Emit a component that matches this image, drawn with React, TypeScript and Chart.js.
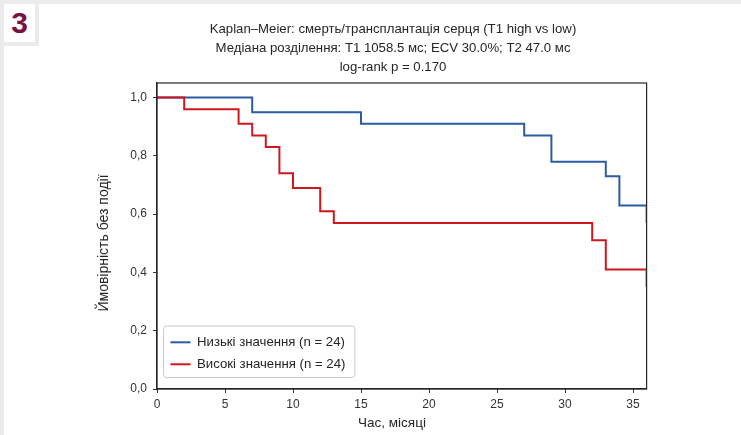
import React, { useEffect, useRef } from "react";
import { Chart, registerables } from "chart.js";

Chart.register(...registerables);

const titleLines = [
  "Kaplan–Meier: смерть/трансплантація серця (T1 high vs low)",
  "Медіана розділення: T1 1058.5 мс; ECV 30.0%; T2 47.0 мс",
  "log-rank p = 0.170",
];
const xAxisTitle = "Час, місяці";
const yAxisTitle = "Ймовірність без події";
const panelLabel = "3";

const lowLabel = "Низькі значення (n = 24)";
const lowTimes = [0, 7, 15, 27, 29, 33, 34, 36];
const lowSurv = [1.0, 0.95, 0.91, 0.87, 0.78, 0.73, 0.63, 0.57];

const highLabel = "Високі значення (n = 24)";
const highTimes = [0, 2, 6, 7, 8, 9, 10, 12, 13, 32, 33, 36];
const highSurv = [1.0, 0.96, 0.91, 0.87, 0.83, 0.74, 0.69, 0.61, 0.57, 0.51, 0.41, 0.35];

const xMin = 0;
const xMax = 36;
const xStep = 5;
const yMin = 0;
const yMax = 1.05;
const yStep = 0.2;

const FONT = "'Liberation Sans', Arial, sans-serif";
const TEXT = "#262626";
const BLUE = "#2b5ba3";
const RED = "#d0171f";

const framePlugin = {
  id: "frameAndTexts",
  afterDatasetsDraw(chart: any) {
    const { ctx, chartArea: ca } = chart;
    ctx.save();
    // frame
    ctx.strokeStyle = TEXT;
    ctx.lineWidth = 1.2;
    ctx.strokeRect(ca.left, ca.top, ca.right - ca.left, ca.bottom - ca.top);

    // legend
    const ds = chart.data.datasets;
    const order = [0, 1];
    ctx.font = `13.2px ${FONT}`;
    let maxW = 0;
    order.forEach((i) => {
      maxW = Math.max(maxW, ctx.measureText(ds[i].label).width);
    });
    const boxLeft = ca.left + 6.5;
    const boxBottom = ca.bottom - 11.5;
    const boxH = 51.5;
    const boxTop = boxBottom - boxH;
    const textX = boxLeft + 33.5;
    const boxW = textX - boxLeft + maxW + 9.5;
    const r = 3;
    ctx.beginPath();
    ctx.moveTo(boxLeft + r, boxTop);
    ctx.lineTo(boxLeft + boxW - r, boxTop);
    ctx.arcTo(boxLeft + boxW, boxTop, boxLeft + boxW, boxTop + r, r);
    ctx.lineTo(boxLeft + boxW, boxBottom - r);
    ctx.arcTo(boxLeft + boxW, boxBottom, boxLeft + boxW - r, boxBottom, r);
    ctx.lineTo(boxLeft + r, boxBottom);
    ctx.arcTo(boxLeft, boxBottom, boxLeft, boxBottom - r, r);
    ctx.lineTo(boxLeft, boxTop + r);
    ctx.arcTo(boxLeft, boxTop, boxLeft + r, boxTop, r);
    ctx.closePath();
    ctx.fillStyle = "rgba(255,255,255,0.9)";
    ctx.fill();
    ctx.strokeStyle = "#cccccc";
    ctx.lineWidth = 1;
    ctx.stroke();

    order.forEach((i, k) => {
      const y = boxTop + 16.3 + k * 22;
      ctx.strokeStyle = ds[i].borderColor;
      ctx.lineWidth = 2;
      ctx.beginPath();
      ctx.moveTo(boxLeft + 7, y);
      ctx.lineTo(boxLeft + 27, y);
      ctx.stroke();
      ctx.fillStyle = TEXT;
      ctx.textAlign = "left";
      ctx.textBaseline = "middle";
      ctx.fillText(ds[i].label, textX, y);
    });

    // title
    ctx.fillStyle = TEXT;
    ctx.font = `13.2px ${FONT}`;
    ctx.textAlign = "center";
    ctx.textBaseline = "middle";
    titleLines.forEach((line, i) => {
      ctx.fillText(line, 393, 29 + i * 19.2);
    });

    // axis titles
    ctx.font = `13.5px ${FONT}`;
    ctx.fillText(xAxisTitle, 392, 423);
    ctx.font = `14px ${FONT}`;
    ctx.translate(104, 243);
    ctx.rotate(-Math.PI / 2);
    ctx.fillText(yAxisTitle, 0, 0);
    ctx.restore();
  },
};

export default function App() {
  const ref = useRef<HTMLCanvasElement | null>(null);

  useEffect(() => {
    if (!ref.current) return;
    const lowData = lowTimes.map((t, i) => ({ x: t, y: lowSurv[i] }));
    const highData = highTimes.map((t, i) => ({ x: t, y: highSurv[i] }));
    const chart = new Chart(ref.current, {
      type: "line",
      data: {
        datasets: [
          {
            label: lowLabel,
            data: lowData,
            borderColor: BLUE,
            backgroundColor: BLUE,
            borderWidth: 2,
            pointRadius: 0,
            stepped: true,
            fill: false,
            order: 1,
          },
          {
            label: highLabel,
            data: highData,
            borderColor: RED,
            backgroundColor: RED,
            borderWidth: 2,
            pointRadius: 0,
            stepped: true,
            fill: false,
            order: 0,
          },
        ],
      },
      options: {
        responsive: false,
        animation: false,
        devicePixelRatio: 1,
        layout: { padding: { left: 0, right: 94.4, top: 83, bottom: 0 } },
        plugins: {
          legend: { display: false },
          tooltip: { enabled: false },
          title: { display: false },
        },
        scales: {
          x: {
            type: "linear",
            min: xMin,
            max: xMax,
            afterFit: (s: any) => {
              s.height = 46;
            },
            ticks: {
              stepSize: xStep,
              includeBounds: false,
              color: "#333333",
              font: { family: FONT, size: 12 },
              padding: 4,
              maxRotation: 0,
              callback: (v: any) => String(v),
            },
            grid: {
              display: true,
              drawOnChartArea: false,
              drawTicks: true,
              tickLength: 4,
              tickColor: "#333333",
            },
            border: { display: true, color: TEXT, width: 1.2 },
          },
          y: {
            type: "linear",
            min: yMin,
            max: yMax,
            afterFit: (s: any) => {
              s.width = 157;
            },
            ticks: {
              stepSize: yStep,
              includeBounds: false,
              color: "#333333",
              font: { family: FONT, size: 12 },
              padding: 6,
              callback: (v: any) => Number(v).toFixed(1).replace(".", ","),
            },
            grid: {
              display: true,
              drawOnChartArea: false,
              drawTicks: true,
              tickLength: 4,
              tickColor: "#333333",
            },
            border: { display: true, color: TEXT, width: 1.2 },
          },
        },
      },
      plugins: [framePlugin],
    });
    return () => chart.destroy();
  }, []);

  return (
    <div
      style={{
        position: "fixed",
        left: 0,
        top: 0,
        width: 741,
        height: 435,
        background: "#ebebeb",
        overflow: "hidden",
      }}
    >
      <div style={{ position: "absolute", left: 4, top: 4, width: 31, height: 38, background: "#fff" }} />
      <div style={{ position: "absolute", left: 39, top: 4, right: 0, bottom: 0, background: "#fff" }} />
      <div style={{ position: "absolute", left: 4, top: 46, right: 0, bottom: 0, background: "#fff" }} />
      <div
        style={{
          position: "absolute",
          left: 4,
          top: 4,
          width: 31,
          height: 38,
          display: "flex",
          alignItems: "center",
          justifyContent: "center",
          fontFamily: FONT,
          fontWeight: "bold",
          fontSize: 30,
          color: "#7a1245",
          lineHeight: 1,
        }}
      >
        {panelLabel}
      </div>
      <canvas
        ref={ref}
        width={741}
        height={435}
        style={{ position: "absolute", left: 0, top: 0, width: 741, height: 435 }}
      />
    </div>
  );
}
